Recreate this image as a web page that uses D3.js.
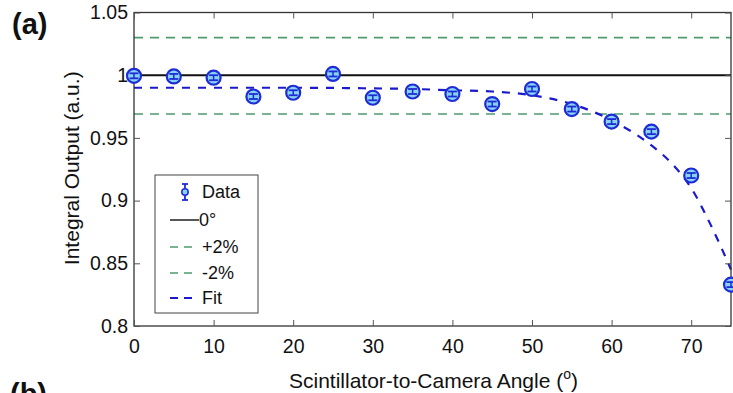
<!DOCTYPE html>
<html>
<head>
<meta charset="utf-8">
<script src="https://cdn.jsdelivr.net/npm/d3@7"></script>
<style>
  body { margin: 0; background: #fff; }
  svg { display: block; font-family: "Liberation Sans", Arial, sans-serif; }
</style>
</head>
<body>
<svg id="chart" width="733" height="393"></svg>
<script>
// measured points
const angles = [0, 5, 10, 15, 20, 25, 30, 35, 40, 45, 50, 55, 60, 65, 70, 75];
const output = [0.9995, 0.999, 0.998, 0.983, 0.986, 1.001, 0.982, 0.987, 0.985, 0.977, 0.989, 0.973, 0.963, 0.955, 0.920, 0.833];
const errs   = [0.002, 0.002, 0.002, 0.002, 0.002, 0.002, 0.002, 0.002, 0.002, 0.002, 0.002, 0.002, 0.002, 0.002, 0.002, 0.002];

// fit curve
const fitAngles = [0, 10, 20, 30, 35, 40, 45, 50, 55, 60, 65, 67.5, 70, 72.5, 75];
const fitValues = [0.990, 0.990, 0.990, 0.9895, 0.989, 0.988, 0.987, 0.984, 0.977, 0.964, 0.944, 0.930, 0.910, 0.880, 0.845];

// reference lines
const refLevels = [1.0, 1.03, 0.969];

const xTicks = [0, 10, 20, 30, 40, 50, 60, 70];
const yTicks = [0.8, 0.85, 0.9, 0.95, 1, 1.05];
const legendLabels = ["Data", "0°", "+2%", "-2%", "Fit"];

const svg = d3.select("#chart");
const plotL = 134, plotR = 731, plotT = 12.5, plotB = 326;

const x = d3.scaleLinear().domain([0, 75]).range([plotL, plotR]);
const y = d3.scaleLinear().domain([0.8, 1.05]).range([plotB, plotT]);

const g = svg.append("g");

// reference lines
g.append("line")
  .attr("x1", x(0)).attr("x2", x(75))
  .attr("y1", y(refLevels[0])).attr("y2", y(refLevels[0]))
  .attr("stroke", "#111").attr("stroke-width", 2);
[refLevels[1], refLevels[2]].forEach(v => {
  g.append("line")
    .attr("x1", x(0)).attr("x2", x(75))
    .attr("y1", y(v)).attr("y2", y(v))
    .attr("stroke", "#4f9a6e").attr("stroke-width", 1.6)
    .attr("stroke-dasharray", "9,7");
});

// fit
const fitLine = d3.line()
  .x((d, i) => x(fitAngles[i]))
  .y(d => y(d))
  .curve(d3.curveMonotoneX);
g.append("path")
  .datum(fitValues)
  .attr("d", fitLine)
  .attr("fill", "none")
  .attr("stroke", "#1a1acc").attr("stroke-width", 2.2)
  .attr("stroke-dasharray", "8,8");

// frame
g.append("rect")
  .attr("x", plotL).attr("y", plotT)
  .attr("width", plotR - plotL).attr("height", plotB - plotT)
  .attr("fill", "none").attr("stroke", "#333").attr("stroke-width", 1.3);

// axes (inside ticks like matlab)
const xAxis = g.append("g").attr("transform", `translate(0,${plotB})`)
  .call(d3.axisBottom(x).tickValues(xTicks).tickSize(-6).tickPadding(13).tickFormat(d3.format("d")));
const xTop = g.append("g").attr("transform", `translate(0,${plotT})`)
  .call(d3.axisTop(x).tickValues(xTicks).tickSize(-6).tickFormat(""));
const yAxis = g.append("g").attr("transform", `translate(${plotL},0)`)
  .call(d3.axisLeft(y).tickValues(yTicks).tickSize(-6).tickPadding(6).tickFormat(d => d3.format("")(d)));
const yRight = g.append("g").attr("transform", `translate(${plotR},0)`)
  .call(d3.axisRight(y).tickValues(yTicks).tickSize(-6).tickFormat(""));

[xAxis, xTop, yAxis, yRight].forEach(a => {
  a.select(".domain").remove();
  a.selectAll(".tick line").attr("stroke", "#555");
  a.selectAll("text").attr("font-size", 19.5).attr("fill", "#111")
    .attr("font-family", "Liberation Sans, Arial, sans-serif");
});
xAxis.selectAll("text").attr("dy", "0.71em");

// data markers
const pts = g.append("g");
angles.forEach((a, i) => {
  const cx = x(a), cy = y(output[i]);
  pts.append("circle")
    .attr("cx", cx).attr("cy", cy).attr("r", 7)
    .attr("fill", "#86d4f2").attr("stroke", "#1f2bd6").attr("stroke-width", 2.2);
  const y1 = y(output[i] + errs[i]), y2 = y(output[i] - errs[i]);
  pts.append("line").attr("x1", cx).attr("x2", cx).attr("y1", y1).attr("y2", y2)
    .attr("stroke", "#1f2bd6").attr("stroke-width", 1.5);
  [y1, y2].forEach(yy => pts.append("line")
    .attr("x1", cx - 4.5).attr("x2", cx + 4.5).attr("y1", yy).attr("y2", yy)
    .attr("stroke", "#1f2bd6").attr("stroke-width", 1.8));
});

// legend
const lg = svg.append("g").attr("transform", "translate(155,175)");
lg.append("rect").attr("width", 103).attr("height", 138)
  .attr("fill", "#fff").attr("stroke", "#444").attr("stroke-width", 1);
const rowY = [17, 45, 72, 98, 123];
// data icon
lg.append("line").attr("x1", 30).attr("x2", 30).attr("y1", rowY[0] - 8).attr("y2", rowY[0] + 8)
  .attr("stroke", "#1f2bd6").attr("stroke-width", 1.8);
[rowY[0] - 8, rowY[0] + 8].forEach(yy => lg.append("line")
  .attr("x1", 27).attr("x2", 33).attr("y1", yy).attr("y2", yy)
  .attr("stroke", "#1f2bd6").attr("stroke-width", 1.8));
lg.append("circle").attr("cx", 30).attr("cy", rowY[0]).attr("r", 3.2)
  .attr("fill", "#86d4f2").attr("stroke", "#1f2bd6").attr("stroke-width", 1.5);
// line icons
const icons = [
  { stroke: "#444", dash: null, w: 1.8, x2: 44 },
  { stroke: "#4f9a6e", dash: "8,6", w: 1.4, x2: 38 },
  { stroke: "#4f9a6e", dash: "8,6", w: 1.4, x2: 38 },
  { stroke: "#1a1acc", dash: "8,6", w: 2.2, x2: 38 }
];
icons.forEach((ic, i) => {
  const l = lg.append("line").attr("x1", 15).attr("x2", ic.x2)
    .attr("y1", rowY[i + 1]).attr("y2", rowY[i + 1])
    .attr("stroke", ic.stroke).attr("stroke-width", ic.w);
  if (ic.dash) l.attr("stroke-dasharray", ic.dash);
});
legendLabels.forEach((t, i) => {
  lg.append("text").attr("x", i === 1 ? 44 : 47).attr("y", rowY[i]).attr("dy", "0.36em")
    .attr("font-size", 18).attr("fill", "#111").text(t);
});

// axis titles
svg.append("text")
  .attr("transform", `translate(79,${(plotT + plotB) / 2 - 1}) rotate(-90)`)
  .attr("text-anchor", "middle").attr("font-size", 21).attr("fill", "#111")
  .text("Integral Output (a.u.)");
const xl = svg.append("text")
  .attr("x", (plotL + plotR) / 2 + 1).attr("y", 388)
  .attr("text-anchor", "middle").attr("font-size", 21).attr("fill", "#111");
xl.append("tspan").text("Scintillator-to-Camera Angle (");
xl.append("tspan").attr("font-size", 14).attr("dy", -9).text("o");
xl.append("tspan").attr("dy", 9).text(")");

// panel letters
svg.append("text").attr("x", 12).attr("y", 34)
  .attr("font-size", 29).attr("font-weight", "bold").attr("fill", "#111").text("(a)");
svg.append("text").attr("x", 10).attr("y", 404)
  .attr("font-size", 29).attr("font-weight", "bold").attr("fill", "#111").text("(b)");
</script>
</body>
</html>
